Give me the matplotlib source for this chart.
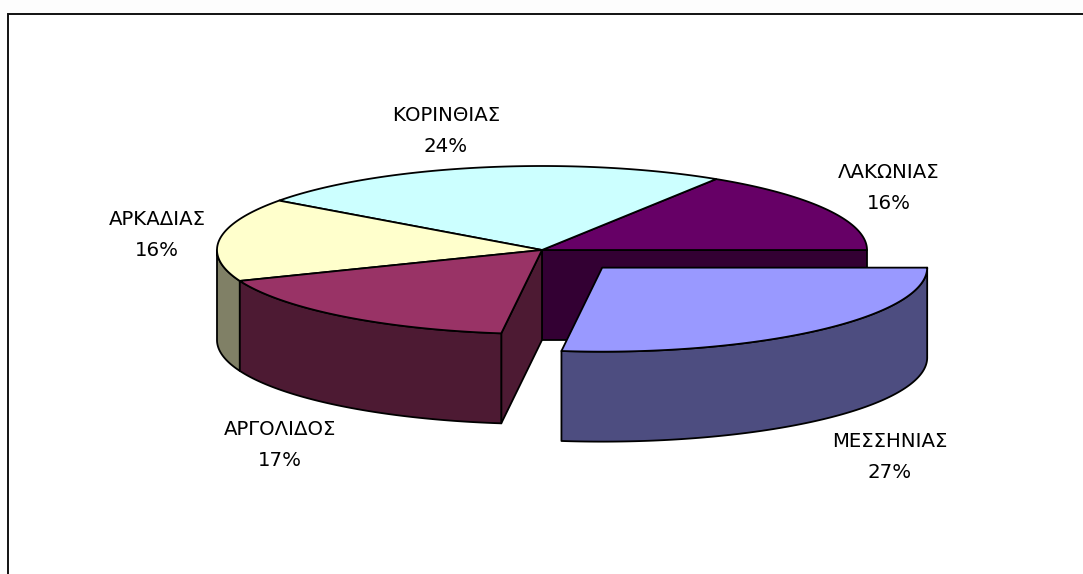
import numpy as np
import matplotlib
matplotlib.use('Agg')
import matplotlib.pyplot as plt
from matplotlib.patches import Polygon, Rectangle

# slices, counter clockwise from 3 o'clock
names = ['ΛΑΚΩΝΙΑΣ', 'ΚΟΡΙΝΘΙΑΣ', 'ΑΡΚΑΔΙΑΣ', 'ΑΡΓΟΛΙΔΟΣ', 'ΜΕΣΣΗΝΙΑΣ']
values = [16, 24, 16, 17, 27]

top_colors = ['#660066', '#CCFFFF', '#FFFFCC', '#993366', '#9999FF']
side_colors = ['#330033', '#668080', '#808066', '#4D1A33', '#4D4D80']
label_pos = [(889, 188), (446, 131), (157, 235), (280, 445), (890, 457)]

cx, cy = 542, 250
rx, ry = 325, 84
depth = 90
explode = {4: 0.28}
LW = 1.3

fig = plt.figure(figsize=(10.83, 5.74), dpi=100, facecolor='#FDFDFD')
ax = fig.add_axes([0, 0, 1, 1])
ax.set_xlim(0, 1083)
ax.set_ylim(574, 0)
ax.axis('off')

ax.add_patch(Rectangle((7.5, 14), 1080, 565, facecolor='white', edgecolor='#111111', lw=1.4, zorder=0))

edges = np.cumsum([0] + values) / sum(values) * 2 * np.pi


def rim(t0, t1, dx=0, dy=0):
    t = np.linspace(t0, t1, 120)
    return np.c_[cx + dx + rx * np.cos(t), cy + dy - ry * np.sin(t)]


def offset(i):
    mid = (edges[i] + edges[i + 1]) / 2
    e = explode.get(i, 0)
    return e * rx * np.cos(mid), -e * ry * np.sin(mid)


def add_poly(pts, color, z):
    ax.add_patch(Polygon(pts, closed=True, facecolor=color, edgecolor='black', lw=LW, joinstyle='round', zorder=z))


# flat cut face of the first slice, seen through the gap
p = rim(edges[0], edges[0])[0]
add_poly([(cx, cy), p, p + (0, depth), (cx, cy + depth)], side_colors[0], 1)

# outer walls, only the front half of the rim shows
for i in range(len(values)):
    t0 = max(edges[i], np.pi)
    t1 = edges[i + 1]
    if t1 <= t0:
        continue
    dx, dy = offset(i)
    arc = rim(t0, t1, dx, dy)
    add_poly(np.r_[arc, arc[::-1] + (0, depth)], side_colors[i], 3 if i != 4 else 5)

# cut face of the slice next to the exploded one
p = rim(edges[4], edges[4])[0]
add_poly([(cx, cy), p, p + (0, depth), (cx, cy + depth)], side_colors[3], 2)

# tops
for i in range(len(values)):
    dx, dy = offset(i)
    add_poly(np.r_[[(cx + dx, cy + dy)], rim(edges[i], edges[i + 1], dx, dy)], top_colors[i], 4 if i != 4 else 6)

for name, v, (x, y) in zip(names, values, label_pos):
    ax.text(x, y, f'{name}\n{v}%', ha='center', va='center', fontsize=14.2, family='DejaVu Sans',
            color='black', linespacing=1.8, zorder=8)

fig.savefig('out.png', dpi=100, facecolor=fig.get_facecolor())
